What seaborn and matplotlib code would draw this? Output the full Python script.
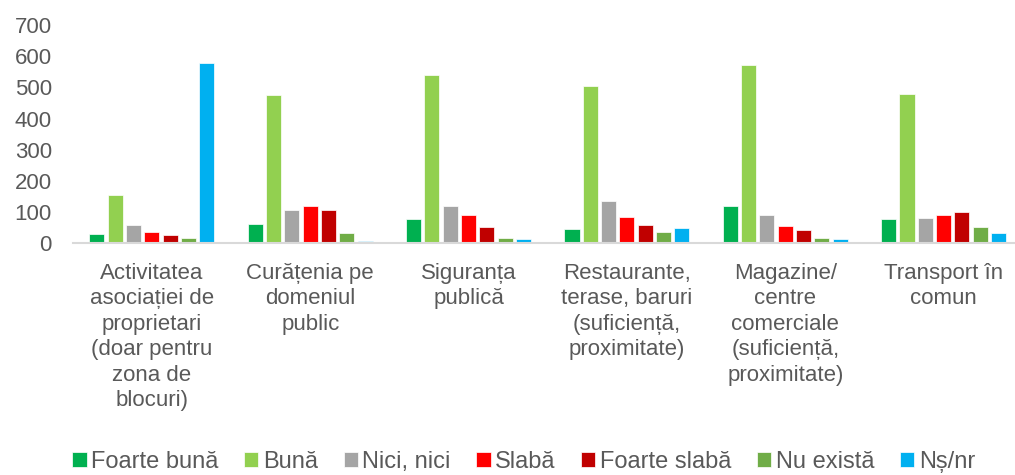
import matplotlib.pyplot as plt
import pandas as pd
import seaborn as sns

# Categories (x axis) and answers (hue)
categories = ['Activitatea\nasociației de\nproprietari\n(doar pentru\nzona de\nblocuri)',
              'Curățenia pe\ndomeniul\npublic',
              'Siguranța\npublică',
              'Restaurante,\nterase, baruri\n(suficiență,\nproximitate)',
              'Magazine/\ncentre\ncomerciale\n(suficiență,\nproximitate)',
              'Transport în\ncomun']
answers = ['Foarte bună', 'Bună', 'Nici, nici', 'Slabă', 'Foarte slabă', 'Nu există', 'Nș/nr']

# values per answer, one value per category
foarte_buna = [29, 62, 79, 44, 121, 77]
buna = [154, 476, 540, 505, 572, 478]
nici_nici = [60, 105, 120, 136, 92, 82]
slaba = [35, 118, 92, 85, 54, 89]
foarte_slaba = [26, 108, 52, 58, 42, 101]
nu_exista = [17, 34, 18, 37, 18, 51]
ns_nr = [580, 7, 12, 48, 12, 34]

colors = ['#00B050', '#92D050', '#A5A5A5', '#FF0000', '#C00000', '#70AD47', '#00B0F0']

series = [foarte_buna, buna, nici_nici, slaba, foarte_slaba, nu_exista, ns_nr]
rows = []
for ans, vals in zip(answers, series):
    for cat, v in zip(categories, vals):
        rows.append({'categorie': cat, 'raspuns': ans, 'valoare': v})
df = pd.DataFrame(rows)

sns.set_style('white')
plt.rcParams['font.family'] = ['Liberation Sans', 'DejaVu Sans']
text_color = '#595959'

fig = plt.figure(figsize=(10.15, 4.75), dpi=100)
ax = fig.add_axes([0.0717, 0.488, 0.936, 0.459])

sns.barplot(data=df, x='categorie', y='valoare', hue='raspuns', order=categories,
            hue_order=answers, palette=colors, saturation=1, width=0.81, gap=0.18,
            edgecolor='white', linewidth=0.5, ax=ax)

ax.set_ylim(0, 700)
ax.set_yticks(range(0, 701, 100))
ax.set_xlabel('')
ax.set_ylabel('')
ax.tick_params(axis='both', length=0, labelsize=16, colors=text_color)
ax.tick_params(axis='x', pad=14)
ax.tick_params(axis='y', pad=15)
for lbl in ax.get_xticklabels():
    lbl.set_linespacing(1.28)
for s in ['top', 'right', 'left']:
    ax.spines[s].set_visible(False)
ax.spines['bottom'].set_color('#D9D9D9')
ax.spines['bottom'].set_linewidth(1.5)

handles, labels = ax.get_legend_handles_labels()
ax.legend_.remove()
fig.legend(handles, labels, loc='center', bbox_to_anchor=(0.516, 0.027), ncol=7,
           frameon=False, fontsize=17, labelcolor=text_color, handlelength=0.6,
           handleheight=0.6, handletextpad=0.2, columnspacing=1.08)

fig.savefig('out.png', dpi=100)
